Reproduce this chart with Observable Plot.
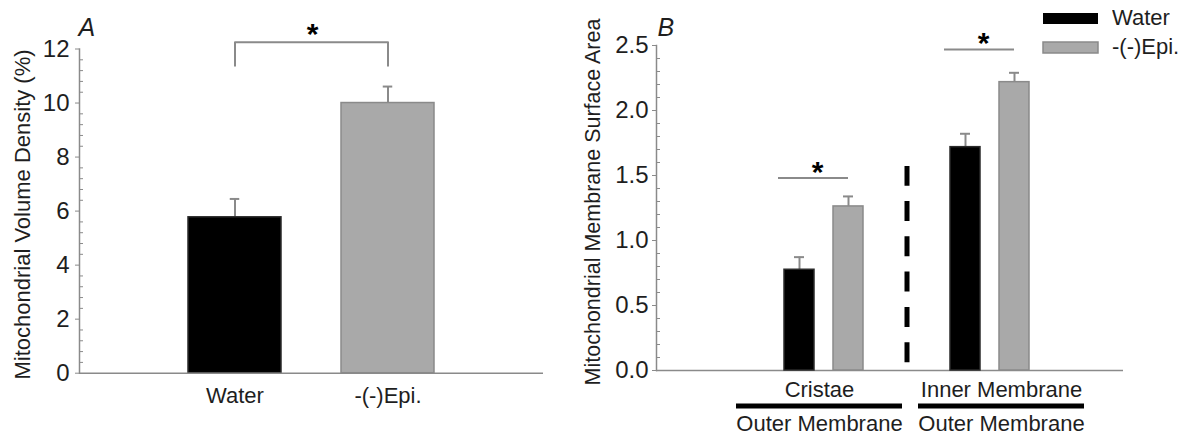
<!DOCTYPE html>
<html>
<head>
<meta charset="utf-8">
<script src="https://cdn.jsdelivr.net/npm/d3@7"></script>
<script src="https://cdn.jsdelivr.net/npm/@observablehq/plot@0.6"></script>
<style>
  html, body { margin: 0; padding: 0; background: #fff; }
  #chart { position: relative; width: 1189px; height: 435px; overflow: hidden; background: #fff; }
  #chart g[aria-label="y-axis tick label"], #chart g[aria-label="y-axis tick label"] text { font-size: 24px; }
  .leg-swatch { height: 29px; padding-bottom: 0 !important; }
  .leg-swatch > svg { margin-right: 14px !important; }
  .leg-swatch:last-of-type svg rect { stroke: #8a8a8a; stroke-width: 1.5px; }
</style>
</head>
<body>
<div id="chart">
  <div id="panelA" style="position:absolute;left:0;top:0;"></div>
  <div id="panelBbg" style="position:absolute;left:580px;top:0;"></div>
  <div id="panelBfg" style="position:absolute;left:580px;top:0;"></div>
  <div id="legend" style="position:absolute;left:1043px;top:3.5px;"></div>
</div>
<script>
// ---------- data ----------
const treatments = ["Water", "-(-)Epi."];

// Panel A
const meansA = [5.77, 10.0];
const errorsA = [0.68, 0.61];
const yTicksA = [0, 2, 4, 6, 8, 10, 12];
const yTitleA = "Mitochondrial Volume Density (%)";
const bracketA = [11.38, 12.25];          // bracket legs bottom, bracket top
const panelLabelA = "A";

// Panel B
const groupsB = ["Cristae", "Inner Membrane"];
const denominatorsB = ["Outer Membrane", "Outer Membrane"];
const waterB = [0.775, 1.718];
const epiB = [1.262, 2.218];
const waterErrB = [0.097, 0.103];
const epiErrB = [0.077, 0.072];
const sigLevelsB = [1.48, 2.47];
const dividerSpanB = [0.06, 1.57];
const yTicksB = [0, 0.5, 1.0, 1.5, 2.0, 2.5];
const yTitleB = "Mitochondrial Membrane Surface Area";
const panelLabelB = "B";
const DIVIDER = "divider";
const star = "*";

// ---------- styles ----------
const FONT = '"Liberation Sans", Arial, Helvetica, sans-serif';
const AXIS = "#8a8a8a";
const INK = "#1e1e1e";
const treatmentFill = ["#000000", "#a9a9a9"];
const treatmentStroke = ["#2a2a2a", "#8a8a8a"];
const svgStyle = {fontFamily: FONT, fontSize: "22px", color: INK, background: "transparent", overflow: "visible"};

// ---------- tables ----------
const rowsA = treatments.map((t, i) => ({treatment: t, mean: meansA[i], err: errorsA[i]}));
const bracketPts = [
  {treatment: treatments[0], y: bracketA[0]},
  {treatment: treatments[0], y: bracketA[1]},
  {treatment: treatments[1], y: bracketA[1]},
  {treatment: treatments[1], y: bracketA[0]}
];
const rowsB = groupsB.flatMap((g, i) => [
  {group: g, treatment: treatments[0], mean: waterB[i], err: waterErrB[i]},
  {group: g, treatment: treatments[1], mean: epiB[i], err: epiErrB[i]}
]);
const sigB = groupsB.map((g, i) => ({group: g, y: sigLevelsB[i]}));
const dividerRows = [{group: DIVIDER, y1: dividerSpanB[0], y2: dividerSpanB[1]}];

const minorA = d3.range(0, 12.001, 0.4).filter(v => Math.abs(v / 2 - Math.round(v / 2)) > 1e-6);
const minorB = d3.range(0, 2.5001, 0.1).filter(v => Math.abs(v / 0.5 - Math.round(v / 0.5)) > 1e-6);

function bars(rows, extra = {}) {
  return treatments.map((t, k) => Plot.barY(rows, {
    filter: d => d.treatment === t, x: "treatment", y: "mean",
    fill: treatmentFill[k], stroke: treatmentStroke[k], strokeWidth: 1.5, ...extra
  }));
}

// ---------- Panel A ----------
const plotA = Plot.plot({
  width: 580, height: 435,
  marginLeft: 79, marginRight: 37, marginTop: 48.5, marginBottom: 62.3,
  x: {domain: treatments, paddingInner: 0.393, paddingOuter: 0.703, align: 0.5, axis: null},
  y: {domain: [0, 12], axis: null},
  style: svgStyle,
  marks: [
    Plot.frame({anchor: "left", stroke: AXIS, strokeWidth: 1.5}),
    Plot.axisY(minorA, {tickSize: -4, tickFormat: () => "", stroke: AXIS, label: null}),
    Plot.axisY(yTicksA, {tickSize: 4, tickPadding: 6, stroke: AXIS, label: null}),
    Plot.text([yTitleA], {frameAnchor: "left", text: d => d, rotate: -90, textAnchor: "middle",
      dx: -56.5, dy: 3.4, fontSize: 22}),
    Plot.axisX({tickSize: 0, tickPadding: 14, label: null}),
    Plot.ruleX(rowsA, {x: "treatment", y1: "mean", y2: d => d.mean + d.err, stroke: AXIS, strokeWidth: 2}),
    ...bars(rowsA),
    Plot.tickY(rowsA, {x: "treatment", y: d => d.mean + d.err, stroke: AXIS, strokeWidth: 2, insetLeft: 41.75, insetRight: 41.75}),
    Plot.ruleY([0], {stroke: AXIS, strokeWidth: 1.5}),
    Plot.line(bracketPts, {x: "treatment", y: "y", stroke: AXIS, strokeWidth: 2}),
    Plot.text([star], {y: () => bracketA[1], text: d => d, dx: 1, dy: 2, lineAnchor: "bottom",
      fontSize: 30, fontWeight: "bold", fill: "#000"}),
    Plot.text([panelLabelA], {frameAnchor: "top-left", text: d => d, dx: -1, dy: -13.5, lineAnchor: "bottom",
      textAnchor: "start", fontSize: 25, fontStyle: "italic"})
  ]
});
document.getElementById("panelA").append(plotA);

// ---------- Panel B: axes & group labels ----------
const marginsB = {width: 609, height: 435, marginLeft: 76, marginRight: 66, marginTop: 45, marginBottom: 65};
const plotBbg = Plot.plot({
  ...marginsB,
  x: {domain: groupsB, paddingInner: 0.0874, paddingOuter: 0.32, align: 0.675, axis: null},
  y: {domain: [0, 2.5], axis: null},
  style: svgStyle,
  marks: [
    Plot.frame({anchor: "left", stroke: AXIS, strokeWidth: 1.5}),
    Plot.axisY(minorB, {tickSize: -4, tickFormat: () => "", stroke: AXIS, label: null}),
    Plot.axisY(yTicksB, {tickSize: 4, tickPadding: 4, tickFormat: ".1f", stroke: AXIS, label: null}),
    Plot.text([yTitleB], {frameAnchor: "left", text: d => d, rotate: -90, textAnchor: "middle",
      dx: -63.5, dy: -6, fontSize: 21.5}),
    Plot.ruleY([0], {stroke: AXIS, strokeWidth: 1.5}),
    Plot.text(groupsB, {x: d => d, text: d => d, frameAnchor: "bottom", lineAnchor: "bottom", dy: 26.7}),
    Plot.tickY(groupsB, {x: d => d, y: () => 0, dy: 35.5, stroke: "#000", strokeWidth: 5}),
    Plot.text(groupsB, {x: d => d, text: (d, i) => denominatorsB[i], frameAnchor: "bottom", lineAnchor: "bottom", dy: 60.7}),
    Plot.text([panelLabelB], {frameAnchor: "top-left", text: d => d, dx: 1, dy: -10, lineAnchor: "bottom",
      textAnchor: "start", fontSize: 25, fontStyle: "italic"})
  ]
});
document.getElementById("panelBbg").append(plotBbg);

// ---------- Panel B: bars (faceted by group) ----------
const plotBfg = Plot.plot({
  ...marginsB,
  fx: {domain: [groupsB[0], DIVIDER, groupsB[1]], paddingInner: 0, paddingOuter: 1.313, align: 0.58, axis: null},
  x: {domain: treatments, paddingInner: 0.394, paddingOuter: 0.035, align: 0.5, axis: null},
  y: {domain: [0, 2.5], axis: null},
  style: svgStyle,
  marks: [
    Plot.ruleX(rowsB, {fx: "group", x: "treatment", y1: "mean", y2: d => d.mean + d.err, stroke: AXIS, strokeWidth: 2}),
    ...bars(rowsB, {fx: "group"}),
    Plot.tickY(rowsB, {fx: "group", x: "treatment", y: d => d.mean + d.err, stroke: AXIS, strokeWidth: 2, insetLeft: 10, insetRight: 10}),
    Plot.ruleY(sigB, {fx: "group", y: "y", x1: () => treatments[0], x2: () => treatments[1],
      insetLeft: -6, insetRight: 15, stroke: AXIS, strokeWidth: 2}),
    Plot.text(sigB, {fx: "group", y: "y", text: () => star, dx: -6.5, dy: 3.5, lineAnchor: "bottom",
      fontSize: 30, fontWeight: "bold", fill: "#000"}),
    Plot.ruleX(dividerRows, {fx: "group", x: null, y1: "y1", y2: "y2", stroke: "#000", strokeWidth: 5,
      strokeDasharray: "20,15.3"})
  ]
});
document.getElementById("panelBfg").append(plotBfg);

// ---------- legend ----------
const legend = Plot.legend({
  color: {type: "ordinal", domain: treatments, range: treatmentFill},
  legend: "swatches", columns: 1, swatchWidth: 55, swatchHeight: 11, className: "leg",
  style: {fontFamily: FONT, fontSize: "22px", color: INK, margin: 0}
});
document.getElementById("legend").append(legend);
</script>
</body>
</html>
